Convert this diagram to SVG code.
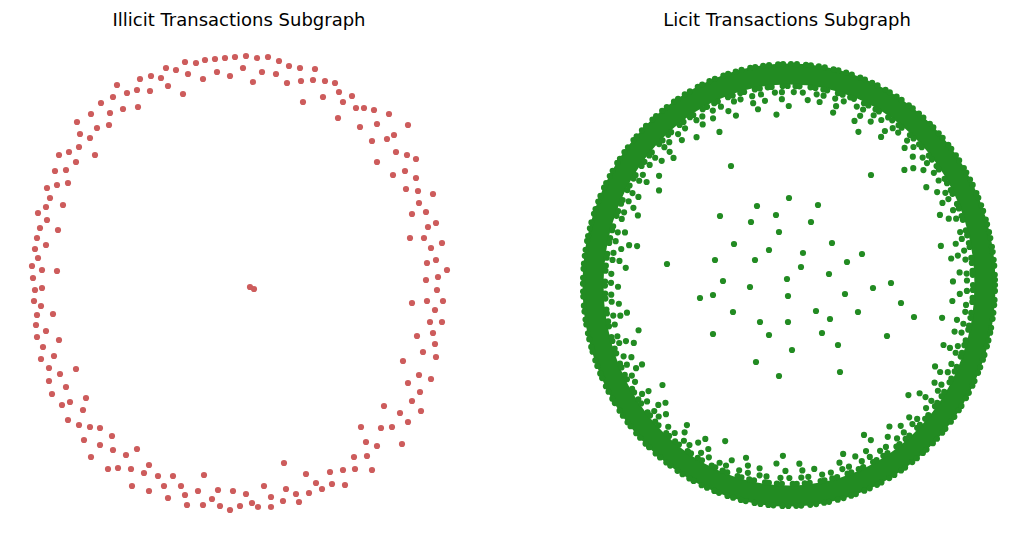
<svg xmlns="http://www.w3.org/2000/svg" width="1025" height="543" viewBox="0 0 1025 543">
<style>
.t{font-family:"DejaVu Sans","Liberation Sans",sans-serif;font-size:18px;fill:#000;text-anchor:middle}
.i circle{fill:#cd5c5c}
.l circle{fill:#228b22}
.band{fill:none;stroke:#228b22}
.dots{fill:none;stroke:#228b22;stroke-width:6.2;stroke-linecap:round}
</style>
<rect width="1025" height="543" fill="#fff"/>
<text class="t" x="239" y="26">Illicit Transactions Subgraph</text>
<text class="t" x="787" y="26">Licit Transactions Subgraph</text>
<g id="connectors"/>
<g id="illicit-nodes" class="i">
<circle cx="166" cy="68" r="3.1"/><circle cx="176" cy="70" r="3.1"/><circle cx="140" cy="79" r="3.1"/><circle cx="151" cy="76" r="3.1"/><circle cx="161" cy="78" r="3.1"/><circle cx="168" cy="86" r="3.1"/><circle cx="117" cy="85" r="3.1"/><circle cx="137" cy="90" r="3.1"/><circle cx="150" cy="91" r="3.1"/><circle cx="127" cy="93" r="3.1"/><circle cx="113" cy="97" r="3.1"/><circle cx="138" cy="107" r="3.1"/><circle cx="101" cy="103" r="3.1"/><circle cx="123" cy="109" r="3.1"/><circle cx="110" cy="113" r="3.1"/><circle cx="91" cy="114" r="3.1"/><circle cx="77" cy="122" r="3.1"/><circle cx="109" cy="125" r="3.1"/><circle cx="97" cy="128" r="3.1"/><circle cx="80" cy="134" r="3.1"/><circle cx="90" cy="138" r="3.1"/><circle cx="79" cy="147" r="3.1"/><circle cx="59" cy="155" r="3.1"/><circle cx="69" cy="152" r="3.1"/><circle cx="95" cy="155" r="3.1"/><circle cx="76" cy="162" r="3.1"/><circle cx="55" cy="171" r="3.1"/><circle cx="66" cy="170" r="3.1"/><circle cx="47" cy="188" r="3.1"/><circle cx="57" cy="185" r="3.1"/><circle cx="68" cy="183" r="3.1"/>
<circle cx="50" cy="198" r="3.1"/><circle cx="63" cy="205" r="3.1"/><circle cx="46" cy="207" r="3.1"/><circle cx="38" cy="213" r="3.1"/><circle cx="47" cy="220" r="3.1"/><circle cx="40" cy="228" r="3.1"/><circle cx="58" cy="230" r="3.1"/><circle cx="37" cy="238" r="3.1"/><circle cx="46" cy="245" r="3.1"/><circle cx="35" cy="249" r="3.1"/><circle cx="38" cy="258" r="3.1"/><circle cx="32" cy="266" r="3.1"/><circle cx="42" cy="270" r="3.1"/><circle cx="57" cy="271" r="3.1"/><circle cx="33" cy="278" r="3.1"/><circle cx="35" cy="290" r="3.1"/><circle cx="42" cy="288" r="3.1"/><circle cx="34" cy="301" r="3.1"/><circle cx="41" cy="306" r="3.1"/><circle cx="37" cy="315" r="3.1"/><circle cx="53" cy="314" r="3.1"/><circle cx="36" cy="325" r="3.1"/><circle cx="46" cy="331" r="3.1"/><circle cx="37" cy="337" r="3.1"/><circle cx="59" cy="340" r="3.1"/><circle cx="43" cy="347" r="3.1"/>
<circle cx="41" cy="359" r="3.1"/><circle cx="54" cy="356" r="3.1"/><circle cx="49" cy="368" r="3.1"/><circle cx="60" cy="374" r="3.1"/><circle cx="76" cy="369" r="3.1"/><circle cx="49" cy="381" r="3.1"/><circle cx="66" cy="387" r="3.1"/><circle cx="52" cy="394" r="3.1"/><circle cx="62" cy="405" r="3.1"/><circle cx="70" cy="402" r="3.1"/><circle cx="86" cy="398" r="3.1"/><circle cx="83" cy="410" r="3.1"/><circle cx="68" cy="420" r="3.1"/><circle cx="79" cy="425" r="3.1"/><circle cx="90" cy="427" r="3.1"/><circle cx="100" cy="428" r="3.1"/><circle cx="112" cy="436" r="3.1"/><circle cx="84" cy="440" r="3.1"/><circle cx="100" cy="445" r="3.1"/><circle cx="113" cy="450" r="3.1"/><circle cx="126" cy="455" r="3.1"/><circle cx="137" cy="449" r="3.1"/><circle cx="91" cy="457" r="3.1"/><circle cx="108" cy="469" r="3.1"/><circle cx="118" cy="468" r="3.1"/><circle cx="131" cy="469" r="3.1"/><circle cx="149" cy="465" r="3.1"/><circle cx="144" cy="473" r="3.1"/><circle cx="158" cy="476" r="3.1"/><circle cx="173" cy="476" r="3.1"/><circle cx="132" cy="486" r="3.1"/><circle cx="149" cy="491" r="3.1"/><circle cx="164" cy="486" r="3.1"/><circle cx="168" cy="498" r="3.1"/>
<circle cx="181" cy="486" r="3.1"/><circle cx="204" cy="475" r="3.1"/><circle cx="185" cy="495" r="3.1"/><circle cx="187" cy="505" r="3.1"/><circle cx="198" cy="491" r="3.1"/><circle cx="203" cy="505" r="3.1"/><circle cx="212" cy="499" r="3.1"/><circle cx="218" cy="490" r="3.1"/><circle cx="220" cy="506" r="3.1"/><circle cx="230" cy="510" r="3.1"/><circle cx="233" cy="491" r="3.1"/><circle cx="240" cy="506" r="3.1"/><circle cx="246" cy="494" r="3.1"/><circle cx="252" cy="503" r="3.1"/><circle cx="258" cy="507" r="3.1"/><circle cx="264" cy="486" r="3.1"/><circle cx="271" cy="497" r="3.1"/><circle cx="271" cy="507" r="3.1"/><circle cx="284" cy="463" r="3.1"/><circle cx="283" cy="501" r="3.1"/><circle cx="286" cy="489" r="3.1"/><circle cx="296" cy="494" r="3.1"/><circle cx="299" cy="502" r="3.1"/><circle cx="306" cy="474" r="3.1"/><circle cx="309" cy="493" r="3.1"/><circle cx="316" cy="483" r="3.1"/><circle cx="322" cy="489" r="3.1"/>
<circle cx="185" cy="62" r="3.1"/><circle cx="196" cy="63" r="3.1"/><circle cx="205" cy="60" r="3.1"/><circle cx="215" cy="59" r="3.1"/><circle cx="225" cy="58" r="3.1"/><circle cx="235" cy="57" r="3.1"/><circle cx="246" cy="56" r="3.1"/><circle cx="257" cy="58" r="3.1"/><circle cx="268" cy="57" r="3.1"/><circle cx="279" cy="61" r="3.1"/><circle cx="289" cy="66" r="3.1"/><circle cx="300" cy="68" r="3.1"/><circle cx="315" cy="69" r="3.1"/><circle cx="188" cy="74" r="3.1"/><circle cx="203" cy="79" r="3.1"/><circle cx="217" cy="72" r="3.1"/><circle cx="230" cy="76" r="3.1"/><circle cx="243" cy="68" r="3.1"/><circle cx="262" cy="72" r="3.1"/><circle cx="253" cy="82" r="3.1"/><circle cx="276" cy="74" r="3.1"/><circle cx="287" cy="83" r="3.1"/><circle cx="301" cy="81" r="3.1"/><circle cx="313" cy="80" r="3.1"/><circle cx="325" cy="81" r="3.1"/><circle cx="183" cy="94" r="3.1"/><circle cx="303" cy="102" r="3.1"/><circle cx="323" cy="97" r="3.1"/>
<circle cx="335" cy="83" r="3.1"/><circle cx="339" cy="92" r="3.1"/><circle cx="343" cy="102" r="3.1"/><circle cx="352" cy="96" r="3.1"/><circle cx="356" cy="108" r="3.1"/><circle cx="364" cy="108" r="3.1"/><circle cx="374" cy="110" r="3.1"/><circle cx="389" cy="114" r="3.1"/><circle cx="338" cy="118" r="3.1"/><circle cx="360" cy="127" r="3.1"/><circle cx="377" cy="124" r="3.1"/><circle cx="408" cy="125" r="3.1"/><circle cx="394" cy="135" r="3.1"/><circle cx="387" cy="139" r="3.1"/><circle cx="372" cy="141" r="3.1"/><circle cx="396" cy="152" r="3.1"/><circle cx="407" cy="155" r="3.1"/><circle cx="416" cy="159" r="3.1"/><circle cx="377" cy="162" r="3.1"/><circle cx="405" cy="171" r="3.1"/><circle cx="393" cy="175" r="3.1"/><circle cx="416" cy="178" r="3.1"/><circle cx="406" cy="189" r="3.1"/><circle cx="418" cy="191" r="3.1"/><circle cx="433" cy="194" r="3.1"/>
<circle cx="419" cy="203" r="3.1"/><circle cx="412" cy="214" r="3.1"/><circle cx="426" cy="212" r="3.1"/><circle cx="436" cy="223" r="3.1"/><circle cx="428" cy="227" r="3.1"/><circle cx="410" cy="238" r="3.1"/><circle cx="424" cy="238" r="3.1"/><circle cx="442" cy="243" r="3.1"/><circle cx="431" cy="248" r="3.1"/><circle cx="436" cy="260" r="3.1"/><circle cx="427" cy="263" r="3.1"/><circle cx="447" cy="270" r="3.1"/><circle cx="438" cy="277" r="3.1"/><circle cx="426" cy="280" r="3.1"/><circle cx="437" cy="290" r="3.1"/><circle cx="412" cy="303" r="3.1"/><circle cx="427" cy="301" r="3.1"/><circle cx="443" cy="301" r="3.1"/><circle cx="435" cy="310" r="3.1"/><circle cx="430" cy="322" r="3.1"/><circle cx="442" cy="322" r="3.1"/><circle cx="433" cy="333" r="3.1"/><circle cx="417" cy="336" r="3.1"/><circle cx="435" cy="344" r="3.1"/>
<circle cx="436" cy="357" r="3.1"/><circle cx="423" cy="352" r="3.1"/><circle cx="403" cy="361" r="3.1"/><circle cx="431" cy="379" r="3.1"/><circle cx="419" cy="375" r="3.1"/><circle cx="408" cy="383" r="3.1"/><circle cx="420" cy="392" r="3.1"/><circle cx="412" cy="401" r="3.1"/><circle cx="400" cy="413" r="3.1"/><circle cx="384" cy="406" r="3.1"/><circle cx="421" cy="411" r="3.1"/><circle cx="408" cy="422" r="3.1"/><circle cx="392" cy="427" r="3.1"/><circle cx="381" cy="428" r="3.1"/><circle cx="402" cy="444" r="3.1"/><circle cx="377" cy="446" r="3.1"/><circle cx="361" cy="427" r="3.1"/><circle cx="366" cy="442" r="3.1"/><circle cx="354" cy="457" r="3.1"/><circle cx="367" cy="456" r="3.1"/><circle cx="343" cy="470" r="3.1"/><circle cx="355" cy="469" r="3.1"/><circle cx="372" cy="470" r="3.1"/><circle cx="330" cy="472" r="3.1"/><circle cx="345" cy="485" r="3.1"/><circle cx="332" cy="484" r="3.1"/>
<circle cx="250" cy="287" r="3.1"/><circle cx="254" cy="289" r="3.1"/>
</g>
<g id="licit-nodes" class="l">
<ellipse class="band" cx="789" cy="285" rx="196" ry="211" stroke-width="21"/>
<ellipse class="dots" cx="789" cy="285" rx="206" ry="221" stroke-dasharray="0 6 0 9 0 5 0 8"/>
<ellipse class="dots" cx="789" cy="285" rx="184" ry="199" stroke-dasharray="0 5 0 8 0 4 0 11"/>
<ellipse class="dots" cx="789" cy="285" rx="178" ry="193" stroke-dasharray="0 9 0 14 0 7 0 12" stroke-dashoffset="3"/>
<ellipse class="dots" cx="789" cy="285" rx="171" ry="186" stroke-dasharray="0 17 0 26 0 12" stroke-dashoffset="8"/>
<ellipse class="dots" cx="789" cy="285" rx="164" ry="179" stroke-dasharray="0 31 0 45 0 23" stroke-dashoffset="15"/>
<ellipse class="dots" cx="789" cy="285" rx="156" ry="171" stroke-dasharray="0 60 0 85" stroke-dashoffset="27"/>
<circle cx="789" cy="198" r="3.1"/><circle cx="757" cy="206" r="3.1"/><circle cx="818" cy="205" r="3.1"/><circle cx="720" cy="216" r="3.1"/><circle cx="776" cy="215" r="3.1"/><circle cx="751" cy="222" r="3.1"/><circle cx="811" cy="222" r="3.1"/><circle cx="779" cy="232" r="3.1"/><circle cx="734" cy="244" r="3.1"/><circle cx="769" cy="250" r="3.1"/><circle cx="832" cy="243" r="3.1"/><circle cx="803" cy="253" r="3.1"/><circle cx="862" cy="254" r="3.1"/><circle cx="715" cy="260" r="3.1"/><circle cx="755" cy="260" r="3.1"/><circle cx="847" cy="262" r="3.1"/><circle cx="801" cy="267" r="3.1"/><circle cx="829" cy="274" r="3.1"/><circle cx="787" cy="279" r="3.1"/><circle cx="723" cy="281" r="3.1"/><circle cx="750" cy="287" r="3.1"/><circle cx="873" cy="288" r="3.1"/><circle cx="891" cy="283" r="3.1"/><circle cx="700" cy="298" r="3.1"/><circle cx="713" cy="295" r="3.1"/><circle cx="788" cy="296" r="3.1"/><circle cx="845" cy="294" r="3.1"/><circle cx="901" cy="303" r="3.1"/><circle cx="733" cy="312" r="3.1"/><circle cx="816" cy="311" r="3.1"/><circle cx="858" cy="312" r="3.1"/><circle cx="914" cy="317" r="3.1"/><circle cx="760" cy="322" r="3.1"/><circle cx="788" cy="322" r="3.1"/><circle cx="830" cy="319" r="3.1"/><circle cx="713" cy="334" r="3.1"/><circle cx="769" cy="335" r="3.1"/><circle cx="822" cy="333" r="3.1"/><circle cx="887" cy="336" r="3.1"/><circle cx="838" cy="345" r="3.1"/><circle cx="792" cy="350" r="3.1"/><circle cx="756" cy="362" r="3.1"/><circle cx="779" cy="376" r="3.1"/><circle cx="840" cy="372" r="3.1"/><circle cx="667" cy="264" r="3.1"/><circle cx="731" cy="166" r="3.1"/><circle cx="871" cy="175" r="3.1"/>
</g>
</svg>
